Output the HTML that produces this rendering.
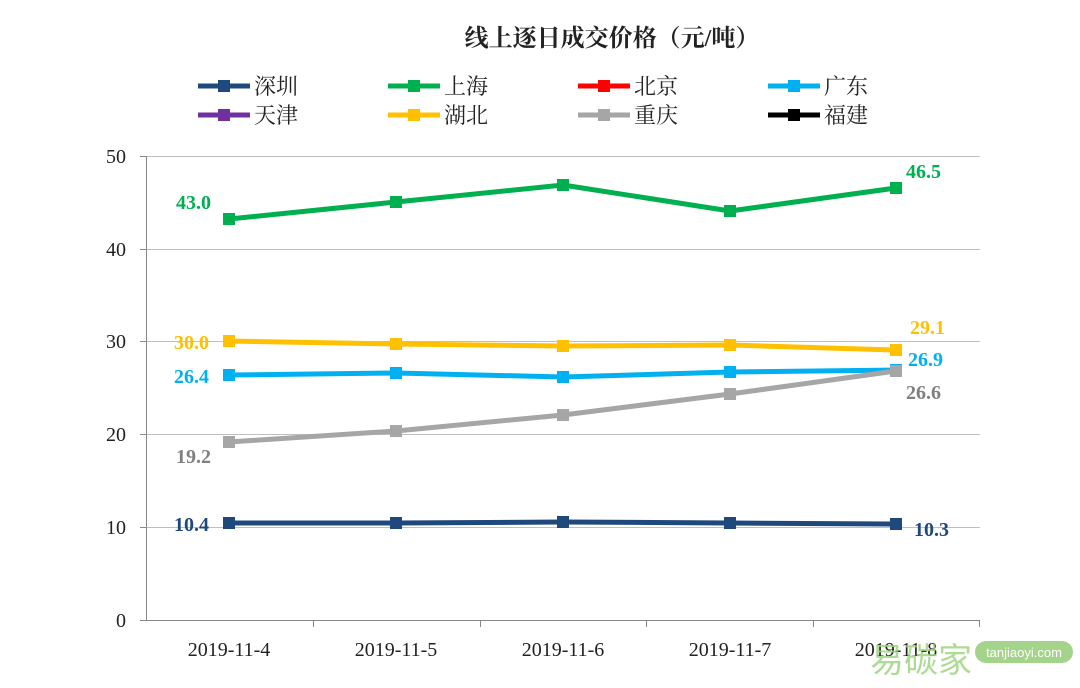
<!DOCTYPE html>
<html><head><meta charset="utf-8"><style>
body{margin:0;background:#fff;}
svg{display:block;font-family:"Liberation Serif","Noto Serif CJK SC",serif;}
</style></head><body>
<svg width="1080" height="688" viewBox="0 0 1080 688" xmlns="http://www.w3.org/2000/svg">
<rect width="1080" height="688" fill="#fff"/>
<text x="612" y="46" font-size="24" text-anchor="middle" font-weight="bold" fill="#222">线上逐日成交价格（元/吨）</text>
<g font-size="22" fill="#222">
<line x1="198" y1="86" x2="250" y2="86" stroke="#1F497D" stroke-width="5"/><rect x="218" y="80" width="12" height="12" fill="#1F497D"/><text x="254" y="94">深圳</text>
<line x1="388" y1="86" x2="440" y2="86" stroke="#00B050" stroke-width="5"/><rect x="408" y="80" width="12" height="12" fill="#00B050"/><text x="444" y="94">上海</text>
<line x1="578" y1="86" x2="630" y2="86" stroke="#FF0000" stroke-width="5"/><rect x="598" y="80" width="12" height="12" fill="#FF0000"/><text x="634" y="94">北京</text>
<line x1="768" y1="86" x2="820" y2="86" stroke="#00B0F0" stroke-width="5"/><rect x="788" y="80" width="12" height="12" fill="#00B0F0"/><text x="824" y="94">广东</text>
<line x1="198" y1="115" x2="250" y2="115" stroke="#7030A0" stroke-width="5"/><rect x="218" y="109" width="12" height="12" fill="#7030A0"/><text x="254" y="123">天津</text>
<line x1="388" y1="115" x2="440" y2="115" stroke="#FFC000" stroke-width="5"/><rect x="408" y="109" width="12" height="12" fill="#FFC000"/><text x="444" y="123">湖北</text>
<line x1="578" y1="115" x2="630" y2="115" stroke="#A6A6A6" stroke-width="5"/><rect x="598" y="109" width="12" height="12" fill="#A6A6A6"/><text x="634" y="123">重庆</text>
<line x1="768" y1="115" x2="820" y2="115" stroke="#000" stroke-width="5"/><rect x="788" y="109" width="12" height="12" fill="#000"/><text x="824" y="123">福建</text>
</g>
<g stroke="#BFBFBF" stroke-width="1">
<line x1="146" y1="156.5" x2="980" y2="156.5"/><line x1="146" y1="249.5" x2="980" y2="249.5"/><line x1="146" y1="341.5" x2="980" y2="341.5"/><line x1="146" y1="434.5" x2="980" y2="434.5"/><line x1="146" y1="527.5" x2="980" y2="527.5"/>
</g>
<g stroke="#888" stroke-width="1">
<line x1="146.5" y1="156" x2="146.5" y2="620"/><line x1="140" y1="620.5" x2="980" y2="620.5"/>
<line x1="140" y1="156.5" x2="146" y2="156.5"/><line x1="140" y1="249.5" x2="146" y2="249.5"/><line x1="140" y1="341.5" x2="146" y2="341.5"/><line x1="140" y1="434.5" x2="146" y2="434.5"/><line x1="140" y1="527.5" x2="146" y2="527.5"/>
<line x1="313.5" y1="620" x2="313.5" y2="627"/><line x1="480.5" y1="620" x2="480.5" y2="627"/><line x1="646.5" y1="620" x2="646.5" y2="627"/><line x1="813.5" y1="620" x2="813.5" y2="627"/><line x1="979.5" y1="620" x2="979.5" y2="627"/>
</g>
<g font-size="20" fill="#222" text-anchor="end">
<text x="126" y="163">50</text><text x="126" y="256">40</text><text x="126" y="348">30</text><text x="126" y="441">20</text><text x="126" y="534">10</text><text x="126" y="627">0</text>
</g>
<g font-size="20" fill="#222" text-anchor="middle">
<text x="229" y="656">2019-11-4</text><text x="396" y="656">2019-11-5</text><text x="563" y="656">2019-11-6</text><text x="730" y="656">2019-11-7</text><text x="896" y="656">2019-11-8</text>
</g>
<g fill="none" stroke-width="5" stroke-linejoin="round">
<polyline stroke="#00B050" points="229,219 396,202 563,185 730,211 896,188"/>
<polyline stroke="#FFC000" points="229,341 396,344 563,346 730,345 896,350"/>
<polyline stroke="#00B0F0" points="229,375 396,373 563,377 730,372 896,370"/>
<polyline stroke="#A6A6A6" points="229,442 396,431 563,415 730,394 896,371"/>
<polyline stroke="#1F497D" points="229,523 396,523 563,522 730,523 896,524"/>
</g>
<g fill="#00B050"><rect x="223" y="213" width="12" height="12"/><rect x="390" y="196" width="12" height="12"/><rect x="557" y="179" width="12" height="12"/><rect x="724" y="205" width="12" height="12"/><rect x="890" y="182" width="12" height="12"/></g>
<g fill="#FFC000"><rect x="223" y="335" width="12" height="12"/><rect x="390" y="338" width="12" height="12"/><rect x="557" y="340" width="12" height="12"/><rect x="724" y="339" width="12" height="12"/><rect x="890" y="344" width="12" height="12"/></g>
<g fill="#00B0F0"><rect x="223" y="369" width="12" height="12"/><rect x="390" y="367" width="12" height="12"/><rect x="557" y="371" width="12" height="12"/><rect x="724" y="366" width="12" height="12"/><rect x="890" y="364" width="12" height="12"/></g>
<g fill="#A6A6A6"><rect x="223" y="436" width="12" height="12"/><rect x="390" y="425" width="12" height="12"/><rect x="557" y="409" width="12" height="12"/><rect x="724" y="388" width="12" height="12"/><rect x="890" y="365" width="12" height="12"/></g>
<g fill="#1F497D"><rect x="223" y="517" width="12" height="12"/><rect x="390" y="517" width="12" height="12"/><rect x="557" y="516" width="12" height="12"/><rect x="724" y="517" width="12" height="12"/><rect x="890" y="518" width="12" height="12"/></g>
<g font-size="20" font-weight="bold">
<text x="176" y="209" fill="#00B050">43.0</text><text x="906" y="178" fill="#00B050">46.5</text>
<text x="174" y="349" fill="#FFC000">30.0</text><text x="910" y="334" fill="#FFC000">29.1</text>
<text x="174" y="383" fill="#00B0F0">26.4</text><text x="908" y="366" fill="#00B0F0">26.9</text>
<text x="176" y="463" fill="#808080">19.2</text><text x="906" y="399" fill="#808080">26.6</text>
<text x="174" y="531" fill="#1F497D">10.4</text><text x="914" y="536" fill="#1F497D">10.3</text>
</g>
<text x="870" y="672" font-size="34" fill="#9BD37A" font-family="Noto Sans CJK SC,sans-serif" opacity="0.8">易碳家</text>
<rect x="975" y="641" width="98" height="22" rx="11" fill="#8DC96B" opacity="0.8"/>
<text x="1024" y="657" font-size="13" fill="#fff" text-anchor="middle" font-family="Liberation Sans,sans-serif">tanjiaoyi.com</text>
</svg>
</body></html>
